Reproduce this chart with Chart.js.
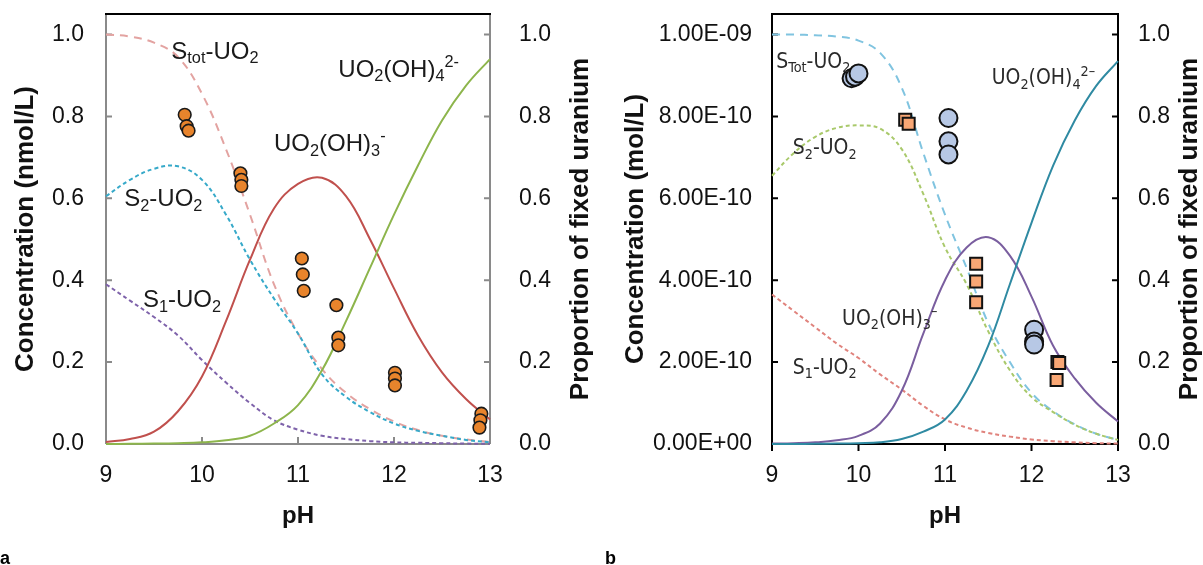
<!DOCTYPE html>
<html>
<head>
<meta charset="utf-8">
<script src="https://cdn.jsdelivr.net/npm/chart.js@4.4.1/dist/chart.umd.min.js"></script>
<style>
  body { margin: 0; background: #fff; width: 1203px; height: 565px; overflow: hidden; position: relative; font-family: "Liberation Sans", Arial, sans-serif; }
  .panel { position: absolute; top: 0; height: 565px; }
  #wrapA { left: 0; width: 600px; }
  #wrapB { left: 600px; width: 603px; }
  .tag { position: absolute; font-weight: bold; font-size: 18px; line-height: 18px; color: #000; }
</style>
</head>
<body>
<div class="panel" id="wrapA"><canvas id="chartA"></canvas></div>
<div class="panel" id="wrapB"><canvas id="chartB"></canvas></div>
<div class="tag" style="left:0px; top:549px;">a</div>
<div class="tag" style="left:605px; top:549px;">b</div>
<script>
// pH grid shared by all model curves
const phGrid = [9, 9.25, 9.5, 9.75, 10, 10.25, 10.5, 10.75, 11, 11.25, 11.5, 11.75, 12, 12.25, 12.5, 12.75, 13];
const xTicks = [9, 10, 11, 12, 13];
const yTicks = [0, 0.2, 0.4, 0.6, 0.8, 1.0];
const concTicksB = ['0.00E+00', '2.00E-10', '4.00E-10', '6.00E-10', '8.00E-10', '1.00E-09'];

// --- panel a (nmol/L) ---
const aStot = [1.0, 0.995, 0.98, 0.945, 0.855, 0.72, 0.56, 0.39, 0.27, 0.183, 0.125, 0.085, 0.055, 0.034, 0.02, 0.011, 0.005];
const aS2   = [0.605, 0.645, 0.672, 0.678, 0.645, 0.56, 0.45, 0.355, 0.27, 0.17, 0.115, 0.078, 0.05, 0.032, 0.02, 0.01, 0.004];
const aS1   = [0.39, 0.35, 0.31, 0.265, 0.205, 0.15, 0.1, 0.058, 0.035, 0.02, 0.012, 0.007, 0.004, 0.003, 0.002, 0.001, 0.0005];
const aOH3  = [0.005, 0.012, 0.03, 0.08, 0.165, 0.3, 0.45, 0.575, 0.635, 0.65, 0.605, 0.5, 0.38, 0.265, 0.175, 0.11, 0.06];
const aOH4  = [0, 0.0005, 0.001, 0.002, 0.004, 0.009, 0.02, 0.05, 0.095, 0.18, 0.3, 0.43, 0.56, 0.68, 0.79, 0.875, 0.94];
const aFixX = [9.82, 9.84, 9.86, 10.40, 10.41, 10.41, 11.04, 11.05, 11.06, 11.40, 11.42, 11.42, 12.01, 12.01, 12.01, 12.91, 12.90, 12.89];
const aFixY = [0.804, 0.776, 0.765, 0.661, 0.645, 0.630, 0.453, 0.414, 0.374, 0.339, 0.26, 0.241, 0.174, 0.16, 0.143, 0.074, 0.058, 0.04];

// --- panel b (x 1E-09 mol/L) ---
const bStot = [1.0, 1.0, 0.998, 0.995, 0.985, 0.955, 0.87, 0.71, 0.56, 0.43, 0.295, 0.2, 0.125, 0.08, 0.048, 0.025, 0.01];
const bS2   = [0.655, 0.71, 0.75, 0.772, 0.778, 0.77, 0.72, 0.61, 0.48, 0.39, 0.275, 0.18, 0.115, 0.078, 0.047, 0.025, 0.01];
const bS1   = [0.365, 0.325, 0.285, 0.245, 0.21, 0.17, 0.133, 0.093, 0.06, 0.04, 0.027, 0.018, 0.011, 0.007, 0.004, 0.002, 0.001];
const bOH3  = [0.001, 0.002, 0.004, 0.009, 0.02, 0.05, 0.13, 0.27, 0.4, 0.48, 0.505, 0.46, 0.36, 0.24, 0.16, 0.1, 0.055];
const bOH4  = [0, 0, 0.0005, 0.001, 0.002, 0.004, 0.012, 0.03, 0.06, 0.13, 0.24, 0.39, 0.54, 0.68, 0.79, 0.875, 0.935];
const bCircX = [9.92, 9.96, 10.0, 11.04, 11.04, 11.04, 12.03, 12.03, 12.03];
const bCircY = [0.893, 0.897, 0.905, 0.796, 0.739, 0.707, 0.279, 0.25, 0.243];
const bSqX = [10.54, 10.58, 11.36, 11.36, 11.36, 12.30, 12.32, 12.29];
const bSqY = [0.792, 0.782, 0.44, 0.397, 0.346, 0.2, 0.198, 0.156];

// curve labels (position in data units, parts: text + sub/sup)
const labelsA = [
  { x: 9.68, y: 0.941, parts: [['S', ''], ['tot', 'sub'], ['-UO', ''], ['2', 'sub']] },
  { x: 11.42, y: 0.897, parts: [['UO', ''], ['2', 'sub'], ['(OH)', ''], ['4', 'sub'], ['2-', 'sup']] },
  { x: 10.75, y: 0.716, parts: [['UO', ''], ['2', 'sub'], ['(OH)', ''], ['3', 'sub'], ['-', 'sup']] },
  { x: 9.19, y: 0.581, parts: [['S', ''], ['2', 'sub'], ['-UO', ''], ['2', 'sub']] },
  { x: 9.385, y: 0.334, parts: [['S', ''], ['1', 'sub'], ['-UO', ''], ['2', 'sub']] }
];
const labelsB = [
  { x: 9.05, y: 0.919, parts: [['S', ''], ['Tot', 'sub'], ['-UO', ''], ['2', 'sub']] },
  { x: 11.54, y: 0.878, parts: [['UO', ''], ['2', 'sub'], ['(OH)', ''], ['4', 'sub'], ['2\u2013', 'sup']] },
  { x: 9.24, y: 0.707, parts: [['S', ''], ['2', 'sub'], ['-UO', ''], ['2', 'sub']] },
  { x: 9.81, y: 0.291, parts: [['UO', ''], ['2', 'sub'], ['(OH)', ''], ['3', 'sub'], ['\u2013', 'sup']] },
  { x: 9.24, y: 0.171, parts: [['S', ''], ['1', 'sub'], ['-UO', ''], ['2', 'sub']] }
];

Chart.defaults.font.family = '"Liberation Sans", Arial, sans-serif';
Chart.defaults.color = '#111';
Chart.defaults.animation = false;

function pts(xs, ys) { return xs.map((x, i) => ({ x: x, y: ys[i] })); }

function curve(ys, color, dash, axis) {
  return {
    type: 'line', data: pts(phGrid, ys), borderColor: color, borderWidth: 2,
    borderDash: dash, pointRadius: 0, tension: 0.4,
    fill: false, clip: 5, yAxisID: axis || 'y'
  };
}

function drawRich(ctx, parts, x, y, size, family, color) {
  let cx = x;
  ctx.fillStyle = color;
  ctx.textAlign = 'left';
  ctx.textBaseline = 'alphabetic';
  parts.forEach(([txt, kind]) => {
    const s = kind ? size * 0.68 : size;
    ctx.font = s + 'px ' + family;
    const dy = kind === 'sub' ? size * 0.2 : kind === 'sup' ? -size * 0.42 : 0;
    ctx.fillText(txt, cx, y + dy);
    cx += ctx.measureText(txt).width;
  });
}

// frame, inward/outward tick marks, curve labels and the right-hand title
function decor(o) {
  return {
    id: 'decor',
    beforeDatasetsDraw(chart) {
      const { ctx, chartArea: a, scales } = chart;
      ctx.save();
      ctx.lineWidth = o.lineWidth;
      ctx.strokeStyle = o.axisColor;
      ctx.beginPath();
      scales.y.ticks.forEach(t => {
        const py = scales.y.getPixelForValue(t.value);
        ctx.moveTo(a.left, py); ctx.lineTo(a.left + 6, py);
      });
      scales.y2.ticks.forEach(t => {
        const py = scales.y2.getPixelForValue(t.value);
        ctx.moveTo(a.right, py); ctx.lineTo(a.right - 6, py);
      });
      scales.x.ticks.forEach(t => {
        const px = scales.x.getPixelForValue(t.value);
        ctx.moveTo(px, a.bottom); ctx.lineTo(px, a.bottom + o.xTickDir * 7);
      });
      // left, bottom, right axis lines
      ctx.moveTo(a.left, a.top); ctx.lineTo(a.left, a.bottom);
      ctx.moveTo(a.left, a.bottom); ctx.lineTo(a.right, a.bottom);
      ctx.moveTo(a.right, a.top); ctx.lineTo(a.right, a.bottom);
      ctx.stroke();
      ctx.strokeStyle = '#000';
      ctx.beginPath();
      ctx.moveTo(a.left - 1, a.top); ctx.lineTo(a.right + 1, a.top);
      ctx.stroke();
      ctx.restore();
    },
    afterDatasetsDraw(chart) {
      const { ctx, chartArea: a, scales } = chart;
      ctx.save();
      o.labels.forEach(l => {
        drawRich(ctx, l.parts, scales.x.getPixelForValue(l.x), scales.y.getPixelForValue(l.y),
          o.labelSize, o.labelFamily, o.labelColor);
      });
      ctx.translate(o.rightTitleX, (a.top + a.bottom) / 2);
      ctx.rotate(-Math.PI / 2);
      ctx.font = 'bold 26px "Liberation Sans", Arial, sans-serif';
      ctx.fillStyle = '#111';
      ctx.textAlign = 'center';
      ctx.textBaseline = 'middle';
      ctx.fillText('Proportion of fixed uranium', 0, 0);
      ctx.restore();
    }
  };
}

// no extra room for half tick labels: chart area is pinned by the widths below
function noPad(s) { s.paddingTop = 0; s.paddingBottom = 0; s.paddingLeft = 0; s.paddingRight = 0; }

function axes(cfg) {
  const tickFont = { size: 23 };
  return {
    x: {
      type: 'linear', min: 9, max: 13,
      afterBuildTicks: s => { s.ticks = xTicks.map(v => ({ value: v })); },
      afterFit: s => { s.height = 121; noPad(s); },
      grid: { display: false }, border: { display: false },
      ticks: { font: tickFont, padding: 10, maxRotation: 0 },
      title: { display: true, text: 'pH', font: { size: 24, weight: 'bold' }, padding: { top: 0, bottom: 34 } }
    },
    y: {
      position: 'left', min: 0, max: 1.05,
      afterBuildTicks: s => { s.ticks = yTicks.map(v => ({ value: v })); },
      afterFit: s => { s.width = cfg.leftWidth; noPad(s); },
      grid: { display: false }, border: { display: false },
      ticks: { font: tickFont, padding: cfg.leftPad, callback: cfg.leftLabel },
      title: { display: true, text: cfg.leftTitle, font: { size: 26, weight: 'bold' }, padding: { top: cfg.titlePad, bottom: 0 } }
    },
    y2: {
      position: 'right', min: 0, max: 1.05,
      afterBuildTicks: s => { s.ticks = yTicks.map(v => ({ value: v })); },
      afterFit: s => { s.width = cfg.rightWidth; noPad(s); },
      grid: { display: false }, border: { display: false },
      ticks: { font: tickFont, padding: cfg.rightPad, callback: v => v.toFixed(1) }
    }
  };
}

const baseOptions = {
  responsive: true, maintainAspectRatio: false,
  layout: { padding: { top: 14, left: 0, right: 0, bottom: 0 } },
  plugins: { legend: { display: false }, tooltip: { enabled: false } }
};

new Chart(document.getElementById('chartA'), {
  data: {
    datasets: [
      { type: 'scatter', data: pts(aFixX, aFixY), yAxisID: 'y2', pointStyle: 'circle', pointRadius: 6.3,
        backgroundColor: '#E8842C', borderColor: '#1a1a1a', borderWidth: 1.6, clip: false },
      curve(aOH4, '#8DB54C', []),
      curve(aOH3, '#C0504D', []),
      curve(aS1, '#7E62AA', [4, 3]),
      curve(aS2, '#36A9C9', [4, 3]),
      curve(aStot, '#E3A3A1', [8, 6])
    ]
  },
  options: Object.assign({}, baseOptions, {
    scales: axes({ leftWidth: 106, rightWidth: 110, leftPad: 14, rightPad: 21, titlePad: 10,
      leftTitle: 'Concentration (nmol/L)', leftLabel: v => v.toFixed(1) })
  }),
  plugins: [decor({ lineWidth: 2, axisColor: '#8a8a8a', xTickDir: -1, labels: labelsA, labelSize: 24,
    labelFamily: '"Liberation Sans", Arial, sans-serif', labelColor: '#1a1a1a', rightTitleX: 581 })]
});

new Chart(document.getElementById('chartB'), {
  data: {
    datasets: [
      { type: 'scatter', data: pts(bCircX, bCircY), yAxisID: 'y2', pointStyle: 'circle', pointRadius: 9,
        backgroundColor: '#B7C8E5', borderColor: '#111', borderWidth: 2, clip: false },
      { type: 'scatter', data: pts(bSqX, bSqY), yAxisID: 'y2', pointStyle: 'rect', pointRadius: 8.5,
        backgroundColor: '#F8A775', borderColor: '#111', borderWidth: 2, clip: false },
      curve(bOH4, '#2F8AA2', []),
      curve(bOH3, '#7A5E9F', []),
      curve(bS1, '#E0837D', [4, 3]),
      curve(bS2, '#A9C96B', [4, 3]),
      curve(bStot, '#80C4E0', [8, 6])
    ]
  },
  options: Object.assign({}, baseOptions, {
    scales: axes({ leftWidth: 172, rightWidth: 85, leftPad: 12, rightPad: 12, titlePad: 20,
      leftTitle: 'Concentration (mol/L)', leftLabel: (v, i) => concTicksB[i] })
  }),
  plugins: [decor({ lineWidth: 2, axisColor: '#000', xTickDir: 1, labels: labelsB, labelSize: 21,
    labelFamily: '"Liberation Sans Narrow", "DejaVu Sans Condensed", sans-serif', labelColor: '#2a2a2a', rightTitleX: 590 })]
});
</script>
</body>
</html>
